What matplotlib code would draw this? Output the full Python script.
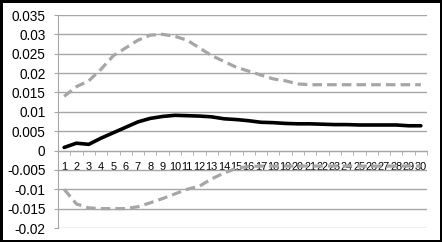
import matplotlib
matplotlib.use("Agg")
import matplotlib.pyplot as plt
from matplotlib.ticker import MultipleLocator, FuncFormatter

periods = list(range(1, 31))
response = [0.0008, 0.0019, 0.0016, 0.0032, 0.0046, 0.0060, 0.0074, 0.0083, 0.0088, 0.0091,
            0.0090, 0.0089, 0.0087, 0.0082, 0.0080, 0.0077, 0.0073, 0.0072, 0.0070, 0.0069,
            0.0069, 0.0068, 0.0067, 0.0067, 0.0066, 0.0066, 0.0066, 0.0066, 0.0064, 0.0064]
upper = [0.0140, 0.0165, 0.0180, 0.0210, 0.0245, 0.0265, 0.0285, 0.0298, 0.0300, 0.0295,
         0.0285, 0.0265, 0.0245, 0.0230, 0.0215, 0.0205, 0.0195, 0.0185, 0.0180, 0.0172,
         0.0170, 0.0170, 0.0170, 0.0170, 0.0170, 0.0170, 0.0170, 0.0170, 0.0170, 0.0170]
lower = [-0.0100, -0.0138, -0.0148, -0.0150, -0.0150, -0.0150, -0.0145, -0.0135, -0.0124, -0.0112,
         -0.0100, -0.0092, -0.0073, -0.0058, -0.0046, -0.0041, -0.0040, -0.0040, -0.0040, -0.0040,
         -0.0040, -0.0040, -0.0040, -0.0040, -0.0040, -0.0040, -0.0040, -0.0040, -0.0040, -0.0040]

plt.rcParams['font.family'] = ['Liberation Sans', 'DejaVu Sans']

fig = plt.figure(figsize=(4.42, 2.42), dpi=100, linewidth=2.5, edgecolor='black')
ax = fig.add_axes([58 / 442, 1 - 228 / 242, (427 - 58) / 442, (228 - 15) / 242])

grid_c = '#a6a6a6'
ax.set_ylim(-0.02, 0.035)
ax.set_xlim(0.5, 30.5)
ax.yaxis.set_major_locator(MultipleLocator(0.005))
ax.yaxis.set_major_formatter(FuncFormatter(lambda v, p: f"{v:.3f}".rstrip('0').rstrip('.') if abs(v) > 1e-9 else "0"))
ax.grid(axis='y', color=grid_c, linewidth=1)
ax.set_axisbelow(True)

ax.plot(periods, upper, color='#a6a6a6', lw=2.3, dashes=(3, 1.6), zorder=3)
ax.plot(periods, lower, color='#a6a6a6', lw=2.3, dashes=(3, 1.6), zorder=3)
ax.plot(periods, response, color='black', lw=2.6, solid_capstyle='round', zorder=4)

for s in ['top', 'right']:
    ax.spines[s].set_visible(False)
ax.spines['left'].set_color(grid_c)
ax.spines['bottom'].set_color(grid_c)
ax.spines['bottom'].set_position(('data', 0))

ax.set_xticks(periods)
ax.set_xticks([p + 0.5 for p in range(0, 31)], minor=True)
ax.tick_params(axis='x', which='major', length=0, pad=8, labelsize=7.9)
ax.tick_params(axis='x', which='minor', length=3, color=grid_c, direction='out')
ax.tick_params(axis='y', length=3, color=grid_c, pad=6, labelsize=9.8)
for lbl in ax.get_xticklabels():
    lbl.set_zorder(5)

fig.savefig('out.png', dpi=100)
